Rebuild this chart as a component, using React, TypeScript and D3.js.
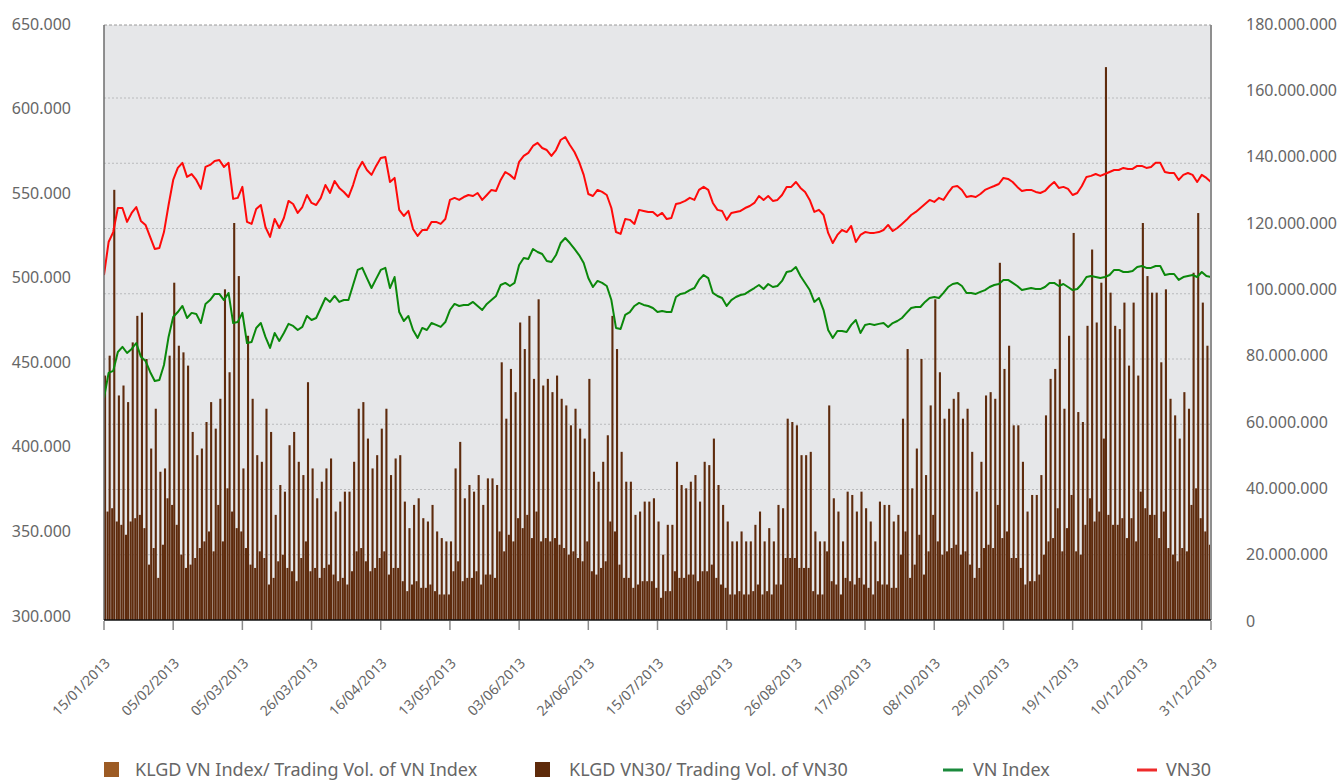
import React from "react";
import * as d3 from "d3";

const W = 1341;
const H = 781;
const PLOT = { left: 104, right: 1211, top: 25, bottom: 620 };
const FONT = "'Noto Sans', sans-serif";

// one tick every 15 trading sessions
const tickLabels = [
  "15/01/2013", "05/02/2013", "05/03/2013", "26/03/2013", "16/04/2013", "13/05/2013",
  "03/06/2013", "24/06/2013", "15/07/2013", "05/08/2013", "26/08/2013", "17/09/2013",
  "08/10/2013", "29/10/2013", "19/11/2013", "10/12/2013", "31/12/2013",
];

const leftTicks = [300, 350, 400, 450, 500, 550, 600, 650];
const rightTicks = [0, 20, 40, 60, 80, 100, 120, 140, 160, 180]; // million shares
const gridTicks = [20, 40, 60, 80, 100, 120, 140, 160];

// index points, one per session
const vn30 = [
  501.6, 521.1, 527.0, 541.2, 541.2, 533.0, 538.3, 541.8, 533.6, 531.2,
  524.1, 517.0, 517.6, 527.0, 543.0, 557.8, 564.9, 567.9, 559.6, 561.3,
  557.8, 552.5, 565.5, 566.7, 569.0, 569.6, 565.5, 567.9, 546.6, 547.2,
  553.7, 533.0, 531.8, 540.6, 543.0, 530.0, 524.1, 534.7, 529.4, 535.3,
  545.4, 543.6, 538.3, 541.8, 548.9, 544.2, 543.0, 547.2, 554.8, 550.1,
  557.2, 553.1, 550.7, 547.7, 554.8, 563.7, 568.5, 563.7, 560.8, 566.1,
  570.8, 571.4, 556.6, 559.0, 540.1, 536.5, 539.5, 528.8, 524.7, 528.2,
  528.2, 533.0, 533.0, 531.8, 534.7, 546.0, 547.2, 546.0, 547.7, 548.9,
  548.3, 550.1, 546.0, 548.9, 551.9, 551.3, 557.8, 562.5, 560.8, 558.4,
  568.5, 572.0, 573.8, 577.9, 579.7, 576.7, 575.5, 572.0, 575.5, 581.4,
  583.2, 578.5, 574.3, 568.5, 560.8, 549.5, 548.3, 551.9, 550.7, 548.9,
  541.2, 527.0, 525.9, 534.7, 534.2, 531.8, 540.1, 539.5, 538.9, 538.9,
  536.5, 538.3, 534.7, 535.3, 543.6, 544.2, 545.4, 547.2, 546.0, 551.9,
  553.7, 551.9, 544.2, 540.1, 539.5, 534.2, 538.3, 538.9, 539.5, 541.2,
  542.4, 544.2, 548.3, 546.0, 548.3, 545.4, 546.0, 548.9, 553.7, 553.7,
  556.6, 553.1, 550.7, 546.0, 538.9, 540.1, 537.1, 526.5, 520.5, 525.3,
  528.2, 527.0, 530.6, 521.1, 525.3, 527.0, 526.5, 526.5, 527.0, 528.2,
  531.2, 527.6, 529.4, 531.8, 534.2, 537.1, 538.9, 541.2, 543.6, 546.0,
  544.8, 547.2, 546.0, 550.1, 553.7, 554.2, 551.9, 547.7, 548.3, 547.7,
  549.5, 551.9, 553.1, 554.2, 555.4, 559.0, 558.4, 556.6, 553.7, 551.3,
  551.9, 551.9, 550.7, 550.1, 551.3, 554.2, 556.6, 553.1, 553.7, 552.5,
  548.9, 550.1, 554.2, 559.6, 560.2, 561.3, 560.2, 561.3, 562.5, 563.7,
  563.7, 564.9, 564.3, 564.3, 566.1, 566.1, 564.9, 565.5, 567.9, 567.9,
  562.5, 561.9, 561.9, 557.8, 560.8, 561.9, 560.8, 556.6, 560.8, 559.0,
  556.6,
];

const vnIndex = [
  428.9, 443.7, 444.9, 456.1, 459.1, 455.5, 457.9, 461.4, 453.2, 450.8,
  444.3, 438.9, 439.5, 448.4, 465.0, 476.8, 479.7, 483.3, 476.2, 479.2,
  478.6, 473.2, 484.5, 486.8, 490.4, 490.4, 486.8, 491.0, 473.2, 473.8,
  479.2, 461.4, 462.0, 470.3, 473.2, 465.0, 458.5, 467.3, 462.6, 467.3,
  472.7, 471.5, 469.1, 470.9, 477.4, 475.0, 476.2, 482.1, 488.0, 485.7,
  489.2, 485.7, 486.8, 486.8, 495.7, 504.6, 505.8, 499.8, 493.9, 499.3,
  504.6, 505.8, 493.9, 500.4, 479.7, 474.4, 477.4, 469.1, 464.4, 470.3,
  469.1, 473.2, 472.1, 470.9, 473.8, 480.9, 484.5, 483.3, 483.9, 483.9,
  485.7, 483.3, 480.9, 484.5, 486.8, 489.2, 495.7, 496.9, 495.1, 496.9,
  507.5, 511.7, 511.1, 517.0, 515.2, 514.0, 509.9, 509.3, 513.4, 520.5,
  523.5, 520.5, 517.0, 513.4, 508.7, 499.8, 494.5, 498.1, 496.9, 495.1,
  486.8, 470.3, 469.7, 478.0, 479.7, 483.3, 485.1, 483.9, 483.3, 482.1,
  479.7, 480.3, 479.7, 479.7, 488.6, 490.4, 491.0, 492.7, 493.9, 498.7,
  501.6, 499.8, 491.0, 489.2, 488.0, 483.3, 486.8, 488.6, 489.8, 490.4,
  492.2, 493.9, 495.7, 493.3, 496.3, 494.5, 495.1, 498.1, 503.4, 504.0,
  506.3, 501.0, 496.9, 492.7, 485.7, 488.0, 480.9, 469.1, 464.4, 468.5,
  468.5, 467.9, 472.1, 475.0, 467.3, 472.1, 472.7, 472.1, 472.7, 473.2,
  470.9, 473.2, 474.4, 476.2, 479.2, 482.1, 482.7, 482.7, 485.7, 488.0,
  488.6, 488.0, 491.0, 494.5, 496.3, 496.9, 495.1, 491.0, 491.0, 490.4,
  491.6, 492.7, 494.5, 495.7, 496.3, 498.7, 498.7, 496.9, 495.1, 492.7,
  493.3, 493.9, 493.3, 493.3, 494.5, 496.9, 496.9, 495.1, 496.3, 494.5,
  492.7, 493.3, 496.3, 500.4, 501.0, 500.4, 499.8, 500.4, 501.6, 504.6,
  504.6, 503.4, 503.4, 504.0, 506.3, 506.9, 505.8, 505.8, 506.9, 506.9,
  501.6, 502.2, 502.2, 498.7, 500.4, 501.0, 501.6, 500.4, 503.4, 501.0,
  500.4,
];

// trading volume, million shares
const volVnIndex = [
  74, 80, 130, 68, 71, 66, 84, 92, 93, 79,
  52, 64, 45, 46, 80, 102, 83, 81, 77, 57,
  50, 52, 60, 66, 58, 67, 100, 75, 120, 104,
  46, 86, 67, 50, 48, 64, 57, 32, 41, 39,
  53, 57, 48, 44, 72, 46, 37, 42, 46, 49,
  33, 36, 39, 39, 48, 64, 66, 55, 46, 50,
  58, 64, 44, 49, 50, 36, 28, 35, 37, 31,
  30, 35, 27, 25, 24, 24, 46, 54, 37, 41,
  39, 44, 35, 43, 43, 41, 78, 61, 76, 69,
  90, 82, 92, 73, 97, 71, 73, 69, 74, 67,
  65, 59, 64, 58, 55, 73, 45, 42, 48, 56,
  92, 82, 51, 42, 42, 32, 33, 36, 36, 37,
  30, 20, 29, 29, 48, 41, 40, 42, 44, 36,
  48, 47, 55, 41, 35, 30, 24, 24, 27, 24,
  24, 29, 33, 24, 28, 24, 35, 34, 61, 60,
  59, 50, 50, 51, 27, 24, 24, 65, 37, 33,
  24, 39, 38, 33, 39, 34, 30, 24, 36, 35,
  35, 30, 32, 61, 82, 40, 52, 79, 44, 65,
  97, 75, 61, 64, 67, 69, 61, 64, 51, 39,
  48, 68, 69, 67, 108, 76, 83, 59, 59, 48,
  33, 38, 38, 44, 62, 73, 76, 103, 64, 86,
  117, 63, 60, 89, 112, 90, 102, 167, 99, 89,
  88, 96, 77, 96, 74, 120, 104, 99, 99, 78,
  100, 67, 62, 55, 69, 64, 105, 123, 96, 83,
  70,
];

const volVn30 = [
  26, 33, 34, 30, 29, 26, 30, 31, 32, 28, 17, 22, 13, 23, 37, 35, 29, 20, 16, 17, 19,
  22, 24, 27, 21, 35, 24, 40, 33, 28, 27, 22, 17, 16, 21, 19, 11, 13, 18, 20, 16,
  15, 12, 19, 24, 15, 16, 13, 16, 17, 14, 12, 13, 11, 15, 21, 22, 18, 15, 16, 19,
  21, 14, 16, 16, 12, 9, 11, 12, 10, 10, 11, 9, 8, 8, 8, 15, 18, 12, 13, 13, 15, 11, 14, 14, 13,
  27, 21, 26, 24, 31, 28, 32, 25, 33, 24, 25, 24, 25, 23, 22, 20, 21, 19, 18, 24, 15, 14, 16, 18, 30,
  27, 17, 13, 13, 10, 11, 12, 12, 12, 10, 7, 9, 9, 15, 13, 13, 14, 14, 12, 15, 15, 17, 13, 11, 10,
  8, 8, 9, 8, 8, 9, 11, 8, 9, 8, 11, 11, 19, 19, 19, 16, 16, 16, 9, 8, 8, 21, 12, 11, 8,
  13, 12, 11, 13, 11, 10, 8, 12, 11, 11, 10, 10, 20, 27, 13, 17, 26, 14, 21, 32, 24, 20, 21, 22, 23,
  20, 21, 17, 13, 16, 22, 23, 22, 35, 25, 27, 19, 19, 16, 11, 12, 12, 14, 20, 24, 25, 34, 21, 28, 38,
  21, 20, 29, 37, 30, 33, 55, 32, 29, 29, 31, 25, 31, 24, 39, 34, 32, 32, 25, 33, 22, 20, 18, 22, 21, 35, 40, 31, 27, 23,
];

const BAR = "#5e2b0d";

export default function App() {
  const days = d3.range(vnIndex.length);
  const x = d3.scalePoint<number>().domain(days).range([PLOT.left, PLOT.right]);
  const step = x.step();
  const inner = d3
    .scaleBand<string>()
    .domain(["vn30", "vni"])
    .range([-step / 2, step / 2])
    .paddingInner(0)
    .paddingOuter(0.1);

  const yL = d3.scaleLinear().domain([300, 650]).range([616, 24]);
  const yR = d3.scaleLinear().domain([0, 180]).range([621, 24]);
  const yGrid = d3.scaleLinear().domain([0, 160]).range([PLOT.bottom, 98]);

  const line = d3
    .line<number>()
    .x((_, i) => x(i)!)
    .y((d) => yL(d));

  const fmtLeft = d3.format(".3f");
  const fmtRight = (v: number) => d3.format(",")(v * 1e6).replace(/,/g, ".");

  const tickDays = days.filter((i) => i % 15 === 0);

  const legend = [
    { kind: "rect", color: "#9c5b24", label: "KLGD VN Index/ Trading Vol. of VN Index", x: 104, tx: 135 },
    { kind: "rect", color: "#5e2a0a", label: "KLGD VN30/ Trading Vol. of VN30", x: 535, tx: 569 },
    { kind: "line", color: "#1b8a3c", label: "VN Index", x: 943, tx: 973 },
    { kind: "line", color: "#ee2b2b", label: "VN30", x: 1137, tx: 1166 },
  ];

  return (
    <div style={{ position: "absolute", left: 0, top: 0 }}>
      <svg width={W} height={H} style={{ display: "block", background: "#fff" }} fontFamily={FONT}>
        <defs>
          <clipPath id="plot">
            <rect x={PLOT.left} y={PLOT.top} width={PLOT.right - PLOT.left} height={PLOT.bottom - PLOT.top} />
          </clipPath>
        </defs>

        <rect x={PLOT.left} y={PLOT.top} width={PLOT.right - PLOT.left} height={PLOT.bottom - PLOT.top} fill="#e6e7e9" />

        {gridTicks.map((t) => (
          <line key={t} x1={PLOT.left} x2={PLOT.right} y1={yGrid(t)} y2={yGrid(t)} stroke="#b9babc" strokeDasharray="2,2" />
        ))}
        <line x1={PLOT.left} x2={PLOT.right} y1={PLOT.top} y2={PLOT.top} stroke="#9a9a9a" strokeDasharray="3,2" />

        <g clipPath="url(#plot)">
          {days.map((i) => (
            <g key={i} transform={`translate(${x(i)},0)`}>
              <rect x={inner("vn30")} width={inner.bandwidth()} y={yR(volVn30[i])} height={yR(0) - yR(volVn30[i])} fill={BAR} />
              <rect x={inner("vni")} width={inner.bandwidth()} y={yR(volVnIndex[i])} height={yR(0) - yR(volVnIndex[i])} fill={BAR} />
            </g>
          ))}
          <path d={line(vnIndex)!} fill="none" stroke="#0b880b" strokeWidth={2} strokeLinejoin="round" />
          <path d={line(vn30)!} fill="none" stroke="#ff0a0a" strokeWidth={2} strokeLinejoin="round" />
        </g>

        <line x1={PLOT.left} x2={PLOT.left} y1={PLOT.top} y2={PLOT.bottom} stroke="#6d6d6d" strokeWidth={1.5} />
        <line x1={PLOT.right} x2={PLOT.right} y1={PLOT.top} y2={PLOT.bottom} stroke="#8f8f8f" strokeWidth={2} />
        <line x1={PLOT.left} x2={PLOT.right} y1={PLOT.bottom} y2={PLOT.bottom} stroke="#111" strokeWidth={1.5} />

        {tickDays.map((d, k) => (
          <g key={d} transform={`translate(${x(d)},0)`}>
            <line y1={PLOT.bottom + 1} y2={PLOT.bottom + 10} stroke="#8a8a8a" strokeWidth={1.5} />
            <text
              transform={`translate(7,664) rotate(-45)`}
              textAnchor="end"
              fontSize={14}
              fill="#666"
            >
              {tickLabels[k]}
            </text>
          </g>
        ))}

        {leftTicks.map((t) => (
          <text key={t} x={71} y={yL(t)} dy="0.35em" textAnchor="end" fontSize={16} fill="#666">
            {fmtLeft(t)}
          </text>
        ))}
        {rightTicks.map((t) => (
          <text key={t} x={1246} y={yR(t)} dy="0.35em" textAnchor="start" fontSize={16} fill="#666">
            {fmtRight(t)}
          </text>
        ))}

        {legend.map((l) => (
          <g key={l.label}>
            {l.kind === "rect" ? (
              <rect x={l.x} y={762} width={15} height={15} fill={l.color} />
            ) : (
              <line x1={l.x} x2={l.x + 20} y1={770} y2={770} stroke={l.color} strokeWidth={3} />
            )}
            <text x={l.tx} y={776} fontSize={18} fill="#666">
              {l.label}
            </text>
          </g>
        ))}
      </svg>
    </div>
  );
}
